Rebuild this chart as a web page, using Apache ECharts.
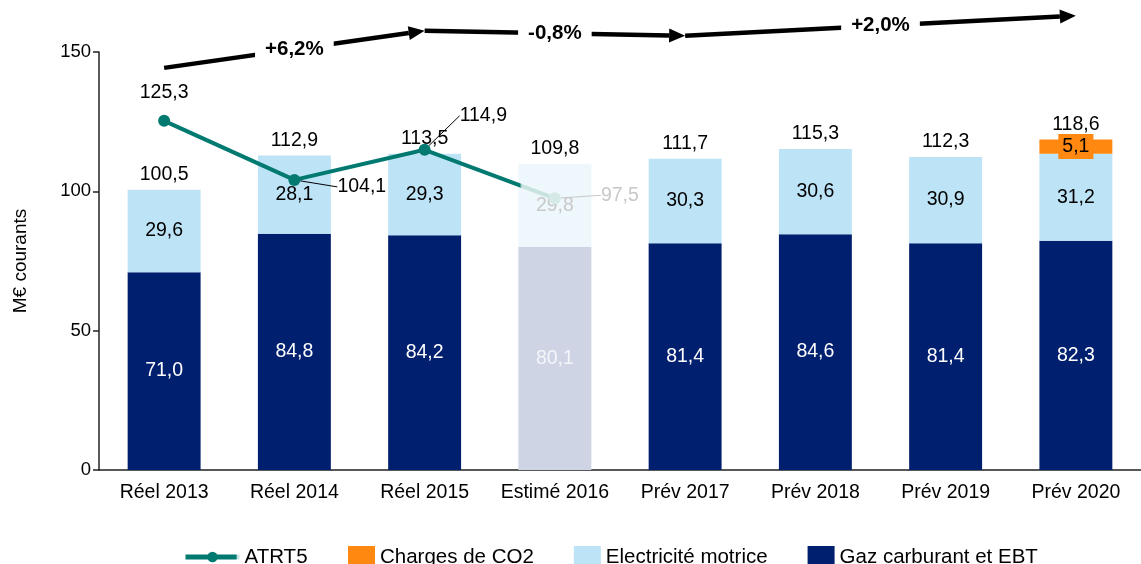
<!DOCTYPE html>
<html>
<head>
<meta charset="utf-8">
<script src="https://cdn.jsdelivr.net/npm/echarts@6/dist/echarts.min.js"></script>
<style>
  html, body { margin: 0; padding: 0; background: #fff; }
  #chart { width: 1141px; height: 564px; }
</style>
</head>
<body>
<div id="chart"></div>
<script>
// données (M€ courants)
var categories = ['Réel 2013', 'Réel 2014', 'Réel 2015', 'Estimé 2016', 'Prév 2017', 'Prév 2018', 'Prév 2019', 'Prév 2020'];
var gazEBT = [71.0, 84.8, 84.2, 80.1, 81.4, 84.6, 81.4, 82.3];
var electricite = [29.6, 28.1, 29.3, 29.8, 30.3, 30.6, 30.9, 31.2];
var chargesCO2 = [null, null, null, null, null, null, null, 5.1];
var totaux = [100.5, 112.9, 113.5, 109.8, 111.7, 115.3, 112.3, 118.6];
var atrt5 = [125.3, 104.1, 114.9, 97.5, null, null, null, null];
var yTicks = [0, 50, 100, 150];

// flèches d'évolution (index catégorie, valeur)
var evolutions = [
    { from: [0, 144.3], to: [2, 157.6], text: '+6,2%' },
    { from: [2, 157.6], to: [4, 155.8], text: '-0,8%' },
    { from: [4, 155.8], to: [7, 163.0], text: '+2,0%' }
];

var idxEstime = 3; // colonne estimée, affichée en estompé
var FONT = 'Arial, "Liberation Sans", sans-serif';
var fmt = function (v) { return v.toFixed(1).replace('.', ','); };

var myChart = echarts.init(document.getElementById('chart'));

// décalage des étiquettes ATRT5 (en px, depuis le point)
var decalages = { 1: [43, 7], 2: [35, -34], 3: [46, -3] };

option = {
    animation: false,
    textStyle: { fontFamily: FONT },
    grid: { left: 99, right: -8, top: 52, bottom: 94 },
    legend: [{
        data: ['ATRT5'],
        left: 178, top: 541.5,
        itemWidth: 54, itemHeight: 13,
        lineStyle: { width: 5 },
        textStyle: { fontSize: 20.5, color: '#000' }
    }, {
        data: ['Charges de CO2', 'Electricité motrice', 'Gaz carburant et EBT'],
        left: 343, top: 541,
        itemWidth: 27, itemHeight: 22, itemGap: 40,
        icon: 'rect',
        textStyle: { fontSize: 20.5, color: '#000' }
    }],
    xAxis: {
        type: 'category',
        data: categories,
        axisTick: { show: false },
        axisLine: { lineStyle: { color: '#222', width: 1.5 } },
        axisLabel: { interval: 0, fontSize: 19.5, color: '#000', margin: 13 }
    },
    yAxis: {
        type: 'value',
        min: yTicks[0], max: yTicks[yTicks.length - 1], interval: 50,
        name: 'M€ courants',
        nameLocation: 'middle',
        nameGap: 69,
        nameTextStyle: { fontSize: 19, color: '#000' },
        splitLine: { show: false },
        axisLine: { show: true, lineStyle: { color: '#222', width: 1.5 } },
        axisTick: { show: true, length: 6, lineStyle: { color: '#222', width: 1.5 } },
        axisLabel: { fontSize: 18.5, color: '#000', margin: 8 }
    },
    series: [{
        name: 'Gaz carburant et EBT',
        type: 'bar',
        stack: 'total',
        barWidth: '56%',
        itemStyle: { color: '#001F6E' },
        label: { show: true, position: 'inside', color: '#fff', fontSize: 19.5, formatter: function (p) { return fmt(p.value); } },
        data: gazEBT.map(function (v, i) {
            return i === idxEstime ? { value: v, itemStyle: { color: '#CED4E3' }, label: { color: '#f4f6fa' } } : v;
        })
    }, {
        name: 'Electricité motrice',
        type: 'bar',
        stack: 'total',
        barWidth: '56%',
        itemStyle: { color: '#BDE3F6' },
        label: { show: true, position: 'inside', color: '#000', fontSize: 19.5, formatter: function (p) { return fmt(p.value); } },
        data: electricite.map(function (v, i) {
            return i === idxEstime ? { value: v, itemStyle: { color: '#EEF7FB' }, label: { color: '#c9c9c9' } } : v;
        })
    }, {
        name: 'Charges de CO2',
        type: 'bar',
        stack: 'total',
        barWidth: '56%',
        itemStyle: { color: '#FF8811' },
        label: {
            show: true, position: 'inside', color: '#000', fontSize: 19.5,
            backgroundColor: '#FF8811', padding: [3, 4, 2, 4],
            formatter: function (p) { return fmt(p.value); }
        },
        data: chargesCO2
    }, {
        name: 'Total',
        type: 'bar',
        barWidth: '56%',
        barGap: '-100%',
        itemStyle: { color: 'rgba(0,0,0,0)' },
        label: { show: true, position: 'top', distance: 5, color: '#000', fontSize: 19.5, formatter: function (p) { return fmt(p.value); } },
        data: totaux,
        z: 1
    }, {
        name: 'ATRT5',
        type: 'line',
        symbol: 'circle',
        symbolSize: 12,
        z: 5,
        lineStyle: {
            width: 4,
            color: new echarts.graphic.LinearGradient(0, 0, 1, 0, [
                { offset: 0, color: '#007A70' },
                { offset: 0.905, color: '#007A70' },
                { offset: 0.91, color: '#C8E3DF' },
                { offset: 1, color: '#C8E3DF' }
            ])
        },
        itemStyle: { color: '#007A70' },
        label: { show: true, position: 'top', distance: 12, color: '#000', fontSize: 19.5, formatter: function (p) { return fmt(p.value); } },
        labelLine: { show: true, lineStyle: { color: '#000', width: 1 } },
        labelLayout: function (params) {
            var d = decalages[params.dataIndex];
            if (!d) return {};
            return {
                x: params.rect.x + params.rect.width / 2 + d[0],
                y: params.rect.y + params.rect.height / 2 + d[1],
                align: 'left',
                verticalAlign: 'middle'
            };
        },
        data: atrt5.map(function (v, i) {
            if (v == null) return '-';
            if (i === idxEstime) {
                return {
                    value: v,
                    itemStyle: { color: '#D5EAE7' },
                    label: { color: '#c8c8c8' },
                    labelLine: { lineStyle: { color: '#c8c8c8' } }
                };
            }
            return decalages[i] ? v : { value: v, labelLine: { show: false } };
        })
    }]
};

myChart.setOption(option);

// flèches d'évolution en haut, positionnées par les axes
function dessinerFleches() {
    var elements = [];
    evolutions.forEach(function (e) {
        var a = myChart.convertToPixel({ xAxisIndex: 0, yAxisIndex: 0 }, e.from);
        var b = myChart.convertToPixel({ xAxisIndex: 0, yAxisIndex: 0 }, e.to);
        var dx = b[0] - a[0], dy = b[1] - a[1];
        var len = Math.sqrt(dx * dx + dy * dy);
        var ux = dx / len, uy = dy / len;
        var headL = 16, headW = 7;
        var bx = b[0] - ux * headL, by = b[1] - uy * headL;
        elements.push({
            type: 'line', z: 100,
            shape: { x1: a[0], y1: a[1], x2: bx, y2: by },
            style: { stroke: '#000', lineWidth: 4.5 }
        });
        elements.push({
            type: 'polygon', z: 100,
            shape: { points: [[b[0], b[1]], [bx - uy * headW, by + ux * headW], [bx + uy * headW, by - ux * headW]] },
            style: { fill: '#000' }
        });
        elements.push({
            type: 'text', z: 101,
            x: (a[0] + b[0]) / 2, y: (a[1] + b[1]) / 2,
            style: {
                text: e.text, align: 'center', verticalAlign: 'middle',
                font: 'bold 20.5px ' + FONT, fill: '#000',
                backgroundColor: '#fff', padding: [4, 10]
            }
        });
    });
    myChart.setOption({ graphic: elements });
}
dessinerFleches();
</script>
</body>
</html>
